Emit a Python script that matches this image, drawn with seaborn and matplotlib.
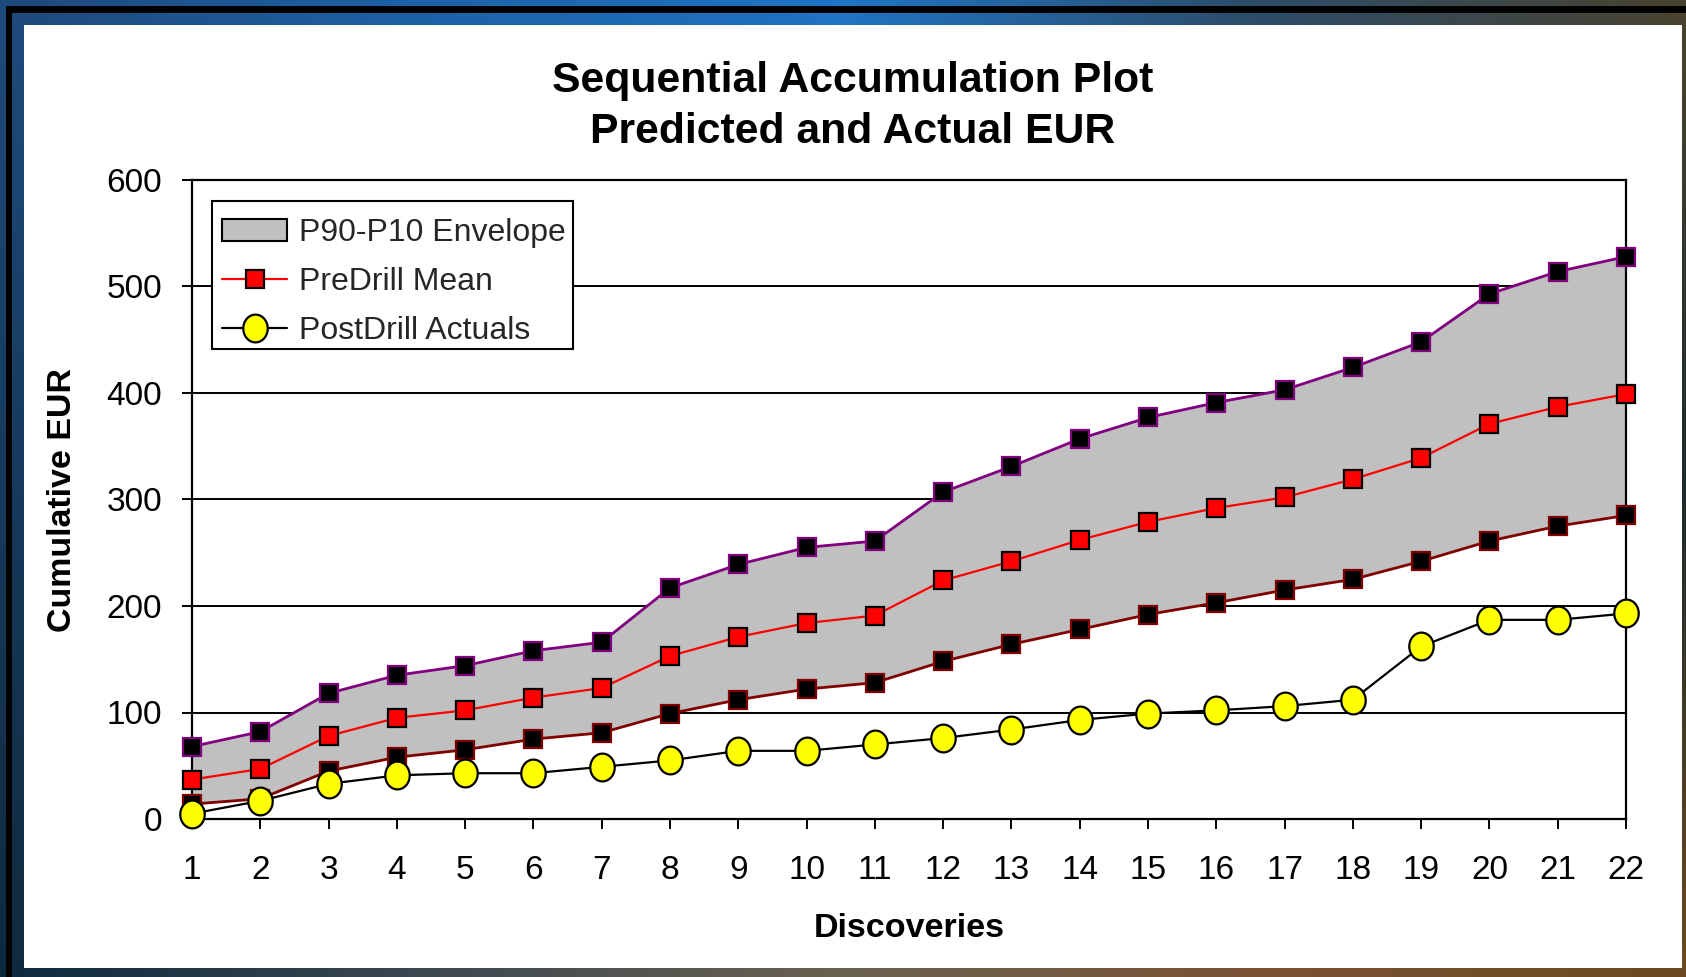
import numpy as np
import pandas as pd
import matplotlib
matplotlib.use("Agg")
import matplotlib.pyplot as plt
import seaborn as sns
from matplotlib.patches import Rectangle, Patch
from matplotlib.path import Path
from matplotlib.colors import to_rgb

# ---------------- data ----------------
discoveries = list(range(1, 23))
p10_high = [68, 82, 118, 135, 144, 158, 166, 217, 239, 255, 261, 307,
            331, 357, 377, 391, 403, 424, 448, 493, 514, 528]
predrill_mean = [37, 47, 78, 95, 102, 114, 123, 153, 171, 184, 191, 224,
                 242, 262, 279, 292, 302, 319, 339, 371, 387, 399]
p90_low = [14, 19, 45, 58, 65, 75, 81, 99, 112, 122, 128, 148,
           164, 178, 192, 203, 215, 225, 242, 261, 275, 285]
postdrill_actuals = [5, 17, 33, 41, 43, 43, 49, 55, 64, 64, 70, 76,
                     84, 93, 99, 102, 106, 112, 162, 187, 187, 193]
y_ticks = [0, 100, 200, 300, 400, 500, 600]

title_lines = ["Sequential Accumulation Plot", "Predicted and Actual EUR"]
x_label = "Discoveries"
y_label = "Cumulative EUR"
legend_labels = ["P90-P10 Envelope", "PreDrill Mean", "PostDrill Actuals"]

df = pd.DataFrame({
    "Discovery": discoveries,
    "P10": p10_high,
    "Mean": predrill_mean,
    "P90": p90_low,
    "Actual": postdrill_actuals,
})

# ---------------- style ----------------
sns.set_theme(style="white")
plt.rcParams["font.family"] = ["Liberation Sans", "DejaVu Sans"]

W, H = 1686, 977
fig = plt.figure(figsize=(W / 100, H / 100), dpi=100)

# background gradient frame
bg = fig.add_axes([0, 0, 1, 1], zorder=-10)
rows = [
    ["#1f4a7c", "#1d62a8", "#1f75c6", "#2d4c68", "#4a4430"],
    ["#163a5c", "#1a4466", "#204a66", "#203a48", "#1c2c2c"],
    ["#0e2a3e", "#3c4850", "#6a6250", "#7a5234", "#6a4a22"],
]
ctrl = np.array([[to_rgb(c) for c in r] for r in rows])
gh, gw = 60, 120
yy = np.linspace(0, 2, gh)
xx = np.linspace(0, 4, gw)
grad = np.zeros((gh, gw, 3))
for i, yv in enumerate(yy):
    r0 = min(int(yv), 1)
    ty = yv - r0
    row = ctrl[r0] * (1 - ty) + ctrl[r0 + 1] * ty
    for k in range(3):
        grad[i, :, k] = np.interp(xx, np.arange(5), row[:, k])
bg.imshow(grad, aspect="auto", extent=[0, 1, 0, 1], interpolation="bilinear")
bg.set_xlim(0, 1)
bg.set_ylim(0, 1)
bg.axis("off")
# black frame lines
bg.add_patch(Rectangle((6 / W, 0), 6 / W, 1 - 6 / H, color="black", lw=0))
bg.add_patch(Rectangle((6 / W, 1 - 13 / H), 1 - 6 / W, 7 / H, color="black", lw=0))
# white panel
bg.add_patch(Rectangle((24 / W, 1 - 968 / H), (1682 - 24) / W, (968 - 25) / H,
                       facecolor="white", lw=0))

# ---------------- main axes ----------------
AX_L, AX_R, AX_T, AX_B = 192, 1626, 180, 819
ax = fig.add_axes([AX_L / W, 1 - AX_B / H, (AX_R - AX_L) / W, (AX_B - AX_T) / H])
ax.set_facecolor("white")


def ax_fx(px):
    return (px - AX_L) / (AX_R - AX_L)


def ax_fy(py):
    return (AX_B - py) / (AX_B - AX_T)


ax.fill_between(df["Discovery"], df["P90"], df["P10"], color="#c0c0c0",
                lw=0, zorder=1)

sq = 13.5
sns.lineplot(data=df, x="Discovery", y="P10", ax=ax, color="#800080",
             linewidth=2.0, marker="s", markersize=sq, markerfacecolor="black",
             markeredgecolor="#800080", markeredgewidth=1.6, errorbar=None,
             legend=False, zorder=3)
sns.lineplot(data=df, x="Discovery", y="P90", ax=ax, color="#800000",
             linewidth=2.0, marker="s", markersize=sq, markerfacecolor="black",
             markeredgecolor="#800000", markeredgewidth=1.6, errorbar=None,
             legend=False, zorder=3)
sns.lineplot(data=df, x="Discovery", y="Mean", ax=ax, color="#ff0000",
             linewidth=1.6, marker="s", markersize=sq, markerfacecolor="#ff0000",
             markeredgecolor="black", markeredgewidth=1.6, errorbar=None,
             legend=False, zorder=4)
mean_line = ax.lines[-1]

t = np.linspace(0, 2 * np.pi, 60)
ellipse = Path(np.column_stack([0.88 * np.cos(t), np.sin(t)]), closed=True)
sns.lineplot(data=df, x="Discovery", y="Actual", ax=ax, color="black",
             linewidth=1.6, marker=ellipse, markersize=20,
             markerfacecolor="#ffff00", markeredgecolor="black",
             markeredgewidth=1.6, errorbar=None, legend=False, zorder=5)
act_line = ax.lines[-1]
for ln in ax.lines:
    ln.set_clip_on(False)

ax.set_xlim(1, 22)
ax.set_ylim(0, 600)
ax.set_xticks(discoveries)
ax.set_xticklabels([str(d) for d in discoveries])
ax.set_yticks(y_ticks)
ax.set_yticklabels([str(v) for v in y_ticks])

ax.set_axisbelow(True)
ax.yaxis.grid(True, color="black", linewidth=1.4)
ax.xaxis.grid(False)
for s in ax.spines.values():
    s.set_color("black")
    s.set_linewidth(1.6)
    s.set_visible(True)

ax.tick_params(axis="both", which="major", direction="out", length=7.5,
               width=1.4, color="black", labelcolor="black", labelsize=24)
ax.tick_params(axis="x", pad=18.5)
ax.tick_params(axis="y", pad=14)
ax.xaxis.set_ticks_position("bottom")
ax.yaxis.set_ticks_position("left")

ax.set_xlabel(x_label, fontsize=24.5, fontweight="bold", color="black")
ax.set_ylabel(y_label, fontsize=24.5, fontweight="bold", color="black")
ax.xaxis.set_label_coords(0.5, ax_fy(913))
ax.yaxis.set_label_coords(ax_fx(78), 0.5)

fig.text(853 / W, 1 - 81 / H, title_lines[0], ha="center", va="center",
         fontsize=30.8, fontweight="bold", color="black")
fig.text(853 / W, 1 - 132 / H, title_lines[1], ha="center", va="center",
         fontsize=30.8, fontweight="bold", color="black")

# legend frame drawn separately so the inner padding can match
frame = Rectangle((ax_fx(212), ax_fy(349)), ax_fx(573) - ax_fx(212),
                  ax_fy(201) - ax_fy(349), transform=ax.transAxes,
                  facecolor="white", edgecolor="black", linewidth=1.5,
                  zorder=9, clip_on=False)
ax.add_patch(frame)

env_patch = Patch(facecolor="#c0c0c0", edgecolor="black", linewidth=1.5)
leg = ax.legend([env_patch, mean_line, act_line], legend_labels,
                loc="upper left", bbox_to_anchor=(ax_fx(222), ax_fy(218)),
                borderaxespad=0, fontsize=23.0, frameon=False,
                handlelength=2.05, handletextpad=0.35, labelspacing=0.6,
                borderpad=0)
leg.set_zorder(10)

fig.savefig("out.png", dpi=100)
